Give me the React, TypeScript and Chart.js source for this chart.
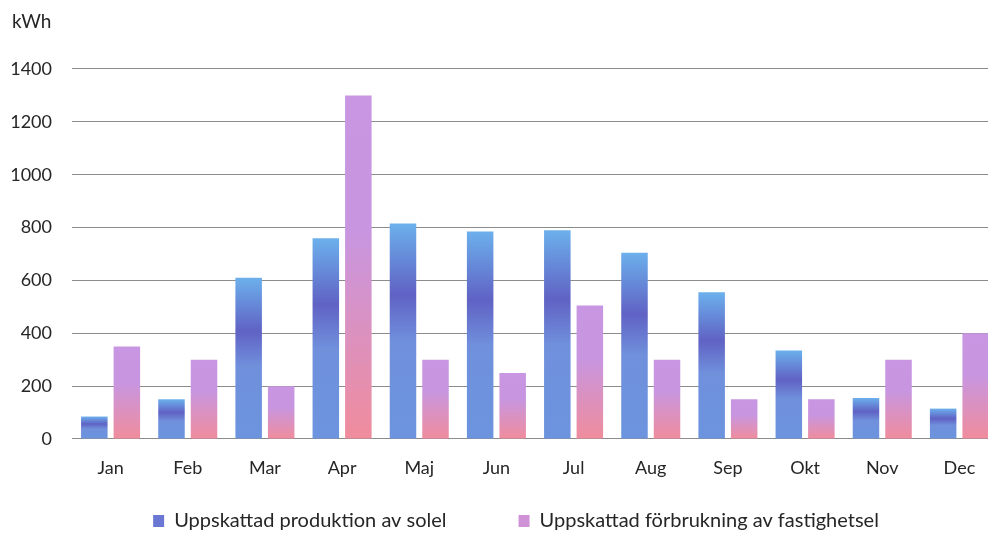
import React, { useEffect, useRef } from "react";
import { Chart, registerables } from "chart.js";

Chart.register(...registerables);

const months = ["Jan", "Feb", "Mar", "Apr", "Maj", "Jun", "Jul", "Aug", "Sep", "Okt", "Nov", "Dec"];
const production = [85, 150, 610, 760, 815, 785, 790, 705, 555, 335, 155, 115];
const consumption = [350, 300, 200, 1300, 300, 250, 505, 300, 150, 150, 300, 400];
const yTicks = [0, 200, 400, 600, 800, 1000, 1200, 1400];
const seriesNames = ["Uppskattad produktion av solel", "Uppskattad förbrukning av fastighetsel"];
const unitLabel = "kWh";

const FONT = "Lato, 'Open Sans', sans-serif";
const TEXT = "#262626";

function blueGradient(ctx: any) {
  const chart = ctx.chart;
  if (ctx.type !== "data" || !chart.chartArea) return "#6a7cd8";
  const y = chart.scales.y;
  const top = y.getPixelForValue(ctx.raw);
  const base = y.getPixelForValue(0);
  if (!isFinite(top) || base - top < 1) return "#6a7cd8";
  const g = chart.ctx.createLinearGradient(0, top, 0, base);
  g.addColorStop(0, "#6cb0ec");
  g.addColorStop(0.33, "#6062c4");
  g.addColorStop(0.55, "#7090dc");
  g.addColorStop(1, "#6c94de");
  return g;
}

function pinkGradient(ctx: any) {
  const chart = ctx.chart;
  if (ctx.type !== "data" || !chart.chartArea) return "#d092d0";
  const y = chart.scales.y;
  const top = y.getPixelForValue(ctx.raw);
  const base = y.getPixelForValue(0);
  if (!isFinite(top) || base - top < 1) return "#d092d0";
  const g = chart.ctx.createLinearGradient(0, top, 0, base);
  g.addColorStop(0, "#c896e2");
  g.addColorStop(0.4, "#c896e0");
  g.addColorStop(1, "#f08c9c");
  return g;
}

const legendColors = ["#6a78d4", "#d092d6"];

const unitPlugin = {
  id: "unitLabel",
  beforeDraw(chart: any) {
    // place the legend row lower and a little to the right, as in the original
    if (chart.legend) {
      chart.legend.top = 439;
      chart.legend.left = 34;
    }
  },
  afterDraw(chart: any) {
    const c = chart.ctx;
    c.save();
    c.fillStyle = TEXT;
    c.font = `19px ${FONT}`;
    c.textAlign = "left";
    c.textBaseline = "middle";
    c.fillText(unitLabel, 12, 22);
    c.restore();
  },
};

export default function App() {
  const ref = useRef<HTMLCanvasElement | null>(null);
  useEffect(() => {
    if (!ref.current) return;
    const chart = new Chart(ref.current, {
      type: "bar",
      data: {
        labels: months,
        datasets: [
          { label: seriesNames[0], data: production, backgroundColor: blueGradient as any, borderWidth: 0 },
          { label: seriesNames[1], data: consumption, backgroundColor: pinkGradient as any, borderWidth: 0 },
        ],
      },
      plugins: [unitPlugin],
      options: {
        animation: false,
        responsive: false,
        maintainAspectRatio: false,
        layout: { padding: { left: 10, right: 0, top: 69, bottom: 0 } },
        datasets: { bar: { barPercentage: 0.815, categoryPercentage: 0.843 } },
        plugins: {
          title: { display: false },
          legend: {
            position: "bottom",
            maxHeight: 54,
            labels: {
              color: TEXT,
              font: { family: FONT, size: 20 },
              boxWidth: 11,
              boxHeight: 12,
              padding: 72,
              generateLabels: (ch: any) =>
                Chart.defaults.plugins.legend.labels.generateLabels(ch).map((l: any, i: number) => ({
                  ...l,
                  fillStyle: legendColors[i],
                  strokeStyle: legendColors[i],
                  lineWidth: 0,
                })),
            },
          },
          tooltip: { enabled: false },
        },
        scales: {
          x: {
            grid: { display: false },
            border: { display: false },
            afterFit: (scale: any) => {
              scale.height = 40;
            },
            ticks: { color: TEXT, font: { family: FONT, size: 18 }, padding: 10 },
          },
          y: {
            min: 0,
            max: 1400,
            afterBuildTicks: (scale: any) => {
              scale.ticks = yTicks.map((v) => ({ value: v }));
            },
            afterFit: (scale: any) => {
              scale.width = 62;
            },
            grid: { color: "#8c8c8c", lineWidth: 1.1, drawTicks: false },
            border: { display: false },
            ticks: {
              color: TEXT,
              font: { family: FONT, size: 18 },
              padding: 20,
              callback: (v: any) => String(v),
            },
          },
        },
      },
    });
    return () => chart.destroy();
  }, []);
  return (
    <div style={{ position: "fixed", left: 0, top: 0, width: 988, height: 533, overflow: "hidden", background: "#fff" }}>
      <canvas ref={ref} width={998} height={533} style={{ width: 998, height: 533, display: "block" }} />
    </div>
  );
}
